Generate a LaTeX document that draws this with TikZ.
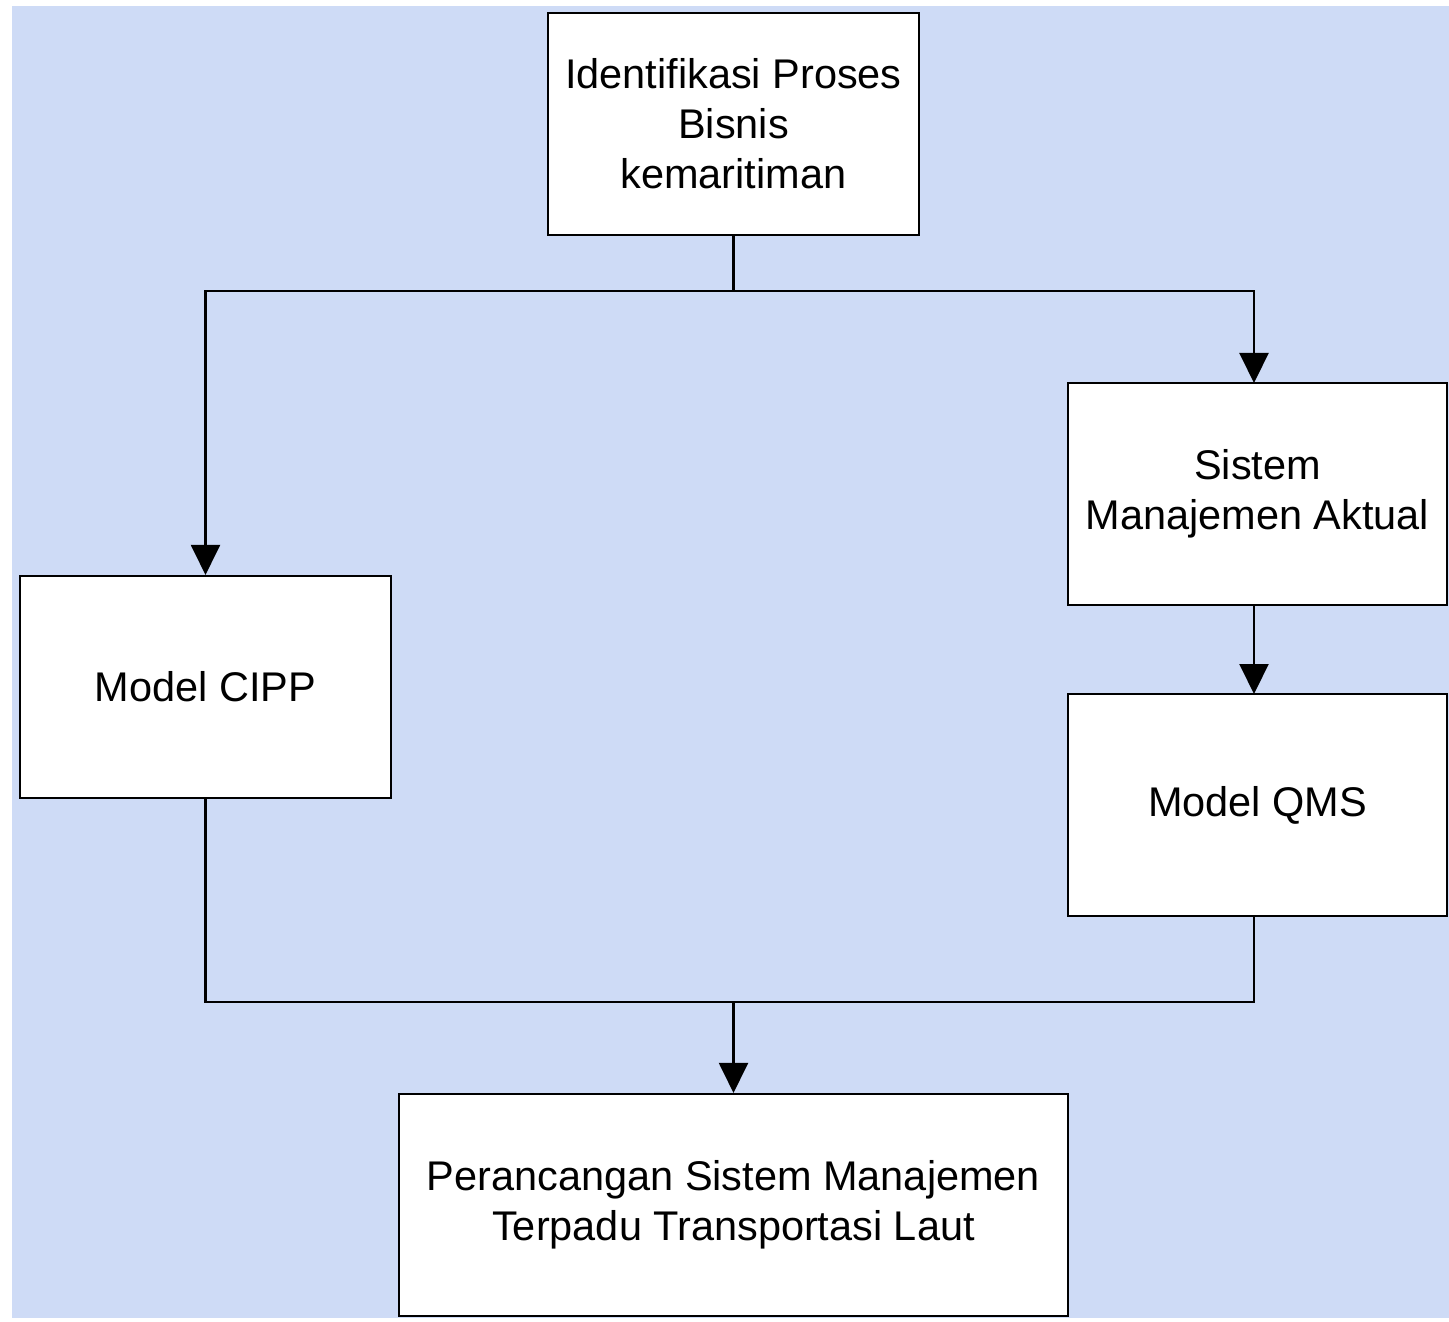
\documentclass[tikz,border=0pt]{standalone}
\usepackage{fontspec}
\setmainfont{Liberation Sans}
\usepackage{tikz}
\usetikzlibrary{arrows.meta}

\definecolor{paper}{RGB}{206,219,246}
\tikzset{
  stage/.style={draw, fill=white, line width=0.6pt, minimum height=2.22cm, align=center,
    font=\fontsize{11.8}{14.2}\selectfont, inner sep=0pt},
  flow/.style={line width=0.6pt, -{Triangle[width=0.29cm, length=0.3cm]}},
  link/.style={line width=0.6pt}
}

\begin{document}
\begin{tikzpicture}
            \useasboundingbox (0, 0) rectangle (14.49, 13.21);
            \fill[paper] (0.12, 0.03) rectangle (14.49, 13.15);
            \node[stage, minimum width=3.71cm] (ident) at (7.335, 11.97) {Identifikasi Proses\\Bisnis\\kemaritiman};
            \node[stage, minimum width=3.79cm] (aktual) at (12.575, 8.27) {Sistem\\Manajemen Aktual};
            \node[stage, minimum width=3.71cm] (cipp) at (2.055, 6.34) {Model CIPP};
            \node[stage, minimum width=3.79cm] (qms) at (12.575, 5.16) {Model QMS};
            \node[stage, minimum width=6.69cm] (rancang) at (7.335, 1.16) {Perancangan Sistem Manajemen\\Terpadu Transportasi Laut};
            \coordinate (split) at (7.335, 10.30);
            \coordinate (join) at (7.335, 3.19);
            \draw[link] (ident) -- (split);
            \draw[flow] (split) -| (cipp);
            \draw[flow] (split) -| (12.54, 10.30) -- (12.54, 9.38);
            \draw[flow] (12.54, 7.16) -- (12.54, 6.27);
            \draw[link] (cipp) |- (join);
            \draw[link] (join) -| (12.54, 4.05);
            \draw[flow] (join) -- (rancang);
        \end{tikzpicture}
\end{document}
